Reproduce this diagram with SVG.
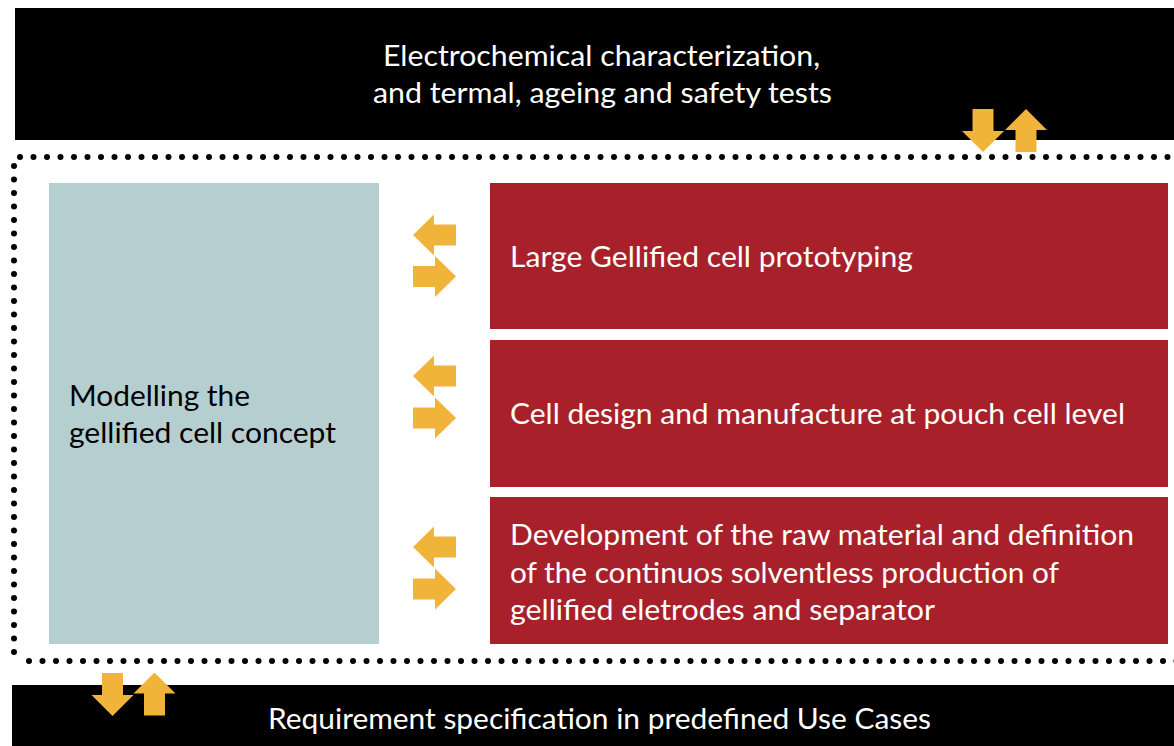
<svg xmlns="http://www.w3.org/2000/svg" width="1174" height="746" viewBox="0 0 1174 746">
<style>
.t{font-family:Lato,"Open Sans","Liberation Sans",sans-serif;font-size:29px}
.w{fill:#ffffff}
.k{fill:#000000}
.arr{fill:#f0b43b}
.dot{fill:none;stroke:#000;stroke-width:6;stroke-linecap:round;stroke-dasharray:0 13.5}
</style>
<rect width="1174" height="746" fill="#ffffff"/>
<g id="top-bar">
<rect x="15" y="8" width="1159" height="132" fill="#000"/>
<text class="t w" x="383" y="66" textLength="437" lengthAdjust="spacingAndGlyphs">Electrochemical characterization,</text>
<text class="t w" x="373" y="103" textLength="459" lengthAdjust="spacingAndGlyphs">and termal, ageing and safety tests</text>
</g>
<g id="bottom-bar">
<rect x="12" y="685" width="1162" height="61" fill="#000"/>
<text class="t w" x="268" y="729" textLength="663" lengthAdjust="spacingAndGlyphs">Requirement specification in predefined Use Cases</text>
</g>
<g id="frame">
<path class="dot" d="M20,157 H1180"/>
<path class="dot" d="M14,166 V660"/>
<path class="dot" d="M29,661 H1180"/>
</g>
<g id="model">
<rect x="49" y="183" width="330" height="461" fill="#b5cfd1"/>
<text class="t k" x="69" y="406" textLength="181" lengthAdjust="spacingAndGlyphs">Modelling the</text>
<text class="t k" x="69" y="443" textLength="267" lengthAdjust="spacingAndGlyphs">gellified cell concept</text>
</g>
<g id="proto">
<rect x="490" y="183" width="678" height="146" fill="#a8212a"/>
<text class="t w" x="510" y="267" textLength="403" lengthAdjust="spacingAndGlyphs">Large Gellified cell prototyping</text>
</g>
<g id="pouch">
<rect x="490" y="340" width="678" height="147" fill="#a8212a"/>
<text class="t w" x="510" y="424" textLength="615" lengthAdjust="spacingAndGlyphs">Cell design and manufacture at pouch cell level</text>
</g>
<g id="material">
<rect x="490" y="497" width="678" height="147" fill="#a8212a"/>
<text class="t w" x="510" y="545" textLength="624" lengthAdjust="spacingAndGlyphs">Development of the raw material and definition</text>
<text class="t w" x="510" y="583" textLength="549" lengthAdjust="spacingAndGlyphs">of the continuos solventless production of</text>
<text class="t w" x="510" y="620" textLength="425" lengthAdjust="spacingAndGlyphs">gellified eletrodes and separator</text>
</g>
<g id="connectors">
<defs>
<path id="la" d="M0,0 L21,-20.5 L21,-10.5 L43,-10.5 L43,10.5 L21,10.5 L21,20.5 Z"/>
<path id="ra" d="M43,0 L22,-20.5 L22,-10.5 L0,-10.5 L0,10.5 L22,10.5 L22,20.5 Z"/>
<path id="da" d="M0,0 L21,-21 L10.5,-21 L10.5,-43 L-10.5,-43 L-10.5,-21 L-21,-21 Z"/>
<path id="ua" d="M0,0 L21,21 L10.5,21 L10.5,43 L-10.5,43 L-10.5,21 L-21,21 Z"/>
</defs>
<use href="#da" class="arr" x="983" y="152"/>
<use href="#ua" class="arr" x="1026" y="109"/>
<use href="#da" class="arr" x="112.5" y="716"/>
<use href="#ua" class="arr" x="154.5" y="672.5"/>
<use href="#la" class="arr" x="413" y="235"/>
<use href="#ra" class="arr" x="413" y="276.5"/>
<use href="#la" class="arr" x="413" y="376"/>
<use href="#ra" class="arr" x="413" y="418"/>
<use href="#la" class="arr" x="413" y="547"/>
<use href="#ra" class="arr" x="413" y="589"/>
</g>
</svg>
